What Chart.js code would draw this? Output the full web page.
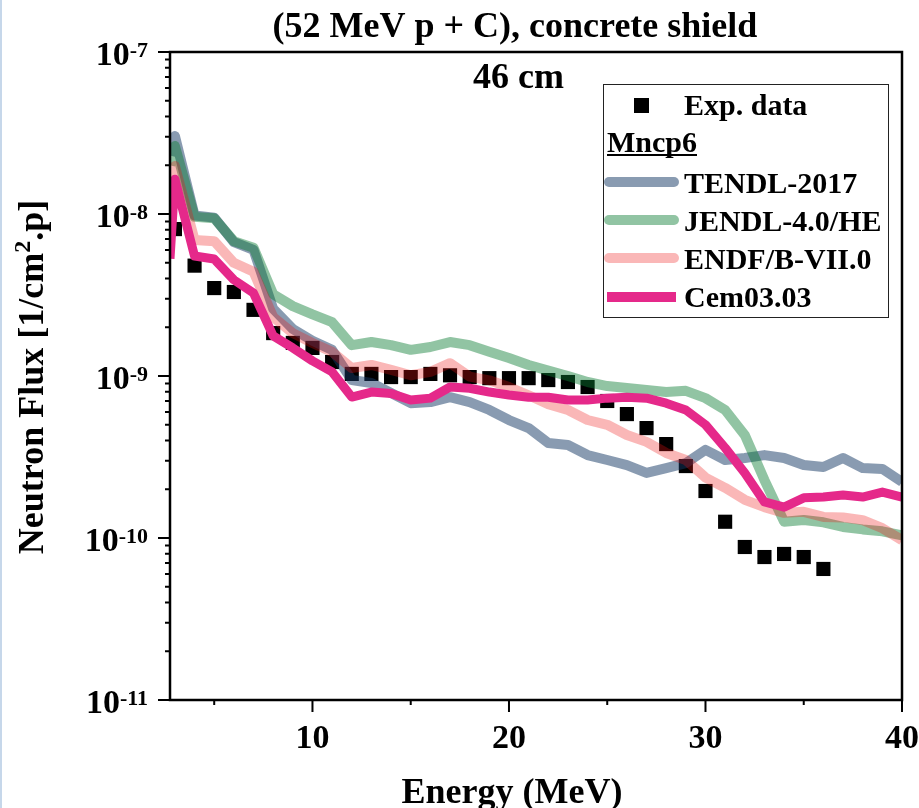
<!DOCTYPE html>
<html>
<head>
<meta charset="utf-8">
<script src="https://cdn.jsdelivr.net/npm/chart.js@4.4.1/dist/chart.umd.min.js"></script>
<style>
  html, body { margin: 0; padding: 0; background: #fff; }
  canvas { display: block; }
</style>
</head>
<body>
<canvas id="fluxChart" width="919" height="808"></canvas>
<script>
// Energy grid (MeV) of the MCNP6 tallies and of the measurement
const energyCalc = [2.75, 3, 4, 5, 6, 7, 8, 9, 10, 11, 12, 13, 14, 15, 16, 17, 18, 19, 20, 21,
    22, 23, 24, 25, 26, 27, 28, 29, 30, 31, 32, 33, 34, 35, 36, 37, 38, 39, 40];
const energyExp = [3, 4, 5, 6, 7, 8, 9, 10, 11, 12, 13, 14, 15, 16, 17, 18, 19, 20, 21, 22,
    23, 24, 25, 26, 27, 28, 29, 30, 31, 32, 33, 34, 35, 36];

// Neutron flux [1/cm2.p]
const expData = [8.07e-9, 4.8e-9, 3.49e-9, 3.3e-9, 2.56e-9, 1.84e-9, 1.6e-9, 1.49e-9, 1.22e-9, 1.03e-9,
    1.03e-9, 9.85e-10, 9.85e-10, 1.03e-9, 1.01e-9, 9.85e-10, 9.7e-10, 9.7e-10, 9.7e-10, 9.44e-10,
    9.18e-10, 8.55e-10, 7.01e-10, 5.82e-10, 4.77e-10, 3.8e-10, 2.78e-10, 1.95e-10, 1.26e-10, 8.8e-11,
    7.63e-11, 7.97e-11, 7.63e-11, 6.44e-11];
const tendl = [2.3e-8, 3.03e-8, 9.8e-9, 9.5e-9, 6.7e-9, 6.0e-9, 2.6e-9, 1.95e-9, 1.65e-9, 1.45e-9,
    9.44e-10, 9.05e-10, 7.85e-10, 6.8e-10, 6.9e-10, 7.4e-10, 6.9e-10, 6.17e-10, 5.35e-10, 4.77e-10,
    3.86e-10, 3.75e-10, 3.25e-10, 3.03e-10, 2.82e-10, 2.52e-10, 2.7e-10, 2.9e-10, 3.5e-10, 3.03e-10,
    3.12e-10, 3.25e-10, 3.12e-10, 2.82e-10, 2.74e-10, 3.12e-10, 2.7e-10, 2.67e-10, 2.22e-10];
const jendl = [2.0e-8, 2.63e-8, 9.6e-9, 9.4e-9, 6.8e-9, 6.2e-9, 3.2e-9, 2.7e-9, 2.4e-9, 2.15e-9,
    1.55e-9, 1.62e-9, 1.55e-9, 1.45e-9, 1.51e-9, 1.62e-9, 1.55e-9, 1.41e-9, 1.29e-9, 1.17e-9,
    1.08e-9, 1.0e-9, 9.18e-10, 8.67e-10, 8.43e-10, 8.2e-10, 7.97e-10, 8.1e-10, 7.3e-10, 6.17e-10,
    4.32e-10, 2.28e-10, 1.26e-10, 1.29e-10, 1.25e-10, 1.17e-10, 1.13e-10, 1.1e-10, 1.04e-10];
const endf = [1.5e-8, 1.98e-8, 6.9e-9, 6.8e-9, 5.0e-9, 4.4e-9, 2.31e-9, 1.84e-9, 1.6e-9, 1.41e-9,
    1.12e-9, 1.17e-9, 1.09e-9, 1.01e-9, 1.06e-9, 1.2e-9, 9.9e-10, 9.4e-10, 8.55e-10, 7.6e-10,
    6.7e-10, 6.17e-10, 5.35e-10, 5.0e-10, 4.32e-10, 3.92e-10, 3.35e-10, 3.03e-10, 2.36e-10, 2.04e-10,
    1.72e-10, 1.55e-10, 1.43e-10, 1.45e-10, 1.35e-10, 1.34e-10, 1.29e-10, 1.15e-10, 9.7e-11];
const cem = [5.3e-9, 1.64e-8, 5.5e-9, 5.27e-9, 3.92e-9, 3.25e-9, 1.77e-9, 1.49e-9, 1.24e-9, 1.06e-9,
    7.41e-10, 7.96e-10, 7.8e-10, 7.1e-10, 7.3e-10, 8.55e-10, 8.4e-10, 7.96e-10, 7.64e-10, 7.4e-10,
    7.4e-10, 7.11e-10, 7.1e-10, 7.3e-10, 7.4e-10, 7.3e-10, 6.8e-10, 6.17e-10, 5.0e-10, 3.6e-10,
    2.52e-10, 1.67e-10, 1.55e-10, 1.77e-10, 1.79e-10, 1.84e-10, 1.79e-10, 1.92e-10, 1.79e-10];

// axis ticks
const xMajor = [10, 20, 30, 40];
const xMinor = [5, 15, 25, 35];
const yPowers = [-11, -10, -9, -8, -7];

const SERIF = '"Liberation Serif", "Times New Roman", serif';
const colTendl = 'rgba(20, 55, 100, 0.5)';
const colJendl = 'rgba(10, 125, 50, 0.45)';
const colEndf = 'rgba(238, 17, 17, 0.3)';
const colCem = '#e5298a';

const pts = (xs, ys) => xs.map((x, i) => ({ x: x, y: ys[i] }));

function lineSet(label, values, color, width, order) {
    return {
        label: label,
        data: pts(energyCalc, values),
        borderColor: color,
        borderWidth: width,
        borderJoinStyle: 'round',
        pointRadius: 0,
        tension: 0,
        clip: 0,
        order: order
    };
}

const decor = {
    id: 'decor',
    beforeDraw(chart) {
        const c = chart.ctx;
        c.save();
        c.fillStyle = '#fff';
        c.fillRect(0, 0, chart.width, chart.height);
        c.fillStyle = '#c6d7ea';
        c.fillRect(0, 0, 2, chart.height);
        c.restore();
    },
    afterDraw(chart) {
        const c = chart.ctx, a = chart.chartArea;
        const xs = chart.scales.x, ys = chart.scales.y;
        c.save();
        c.fillStyle = '#000';
        c.strokeStyle = '#000';

        // frame
        c.lineWidth = 2.5;
        c.strokeRect(a.left, a.top, a.right - a.left, a.bottom - a.top);

        // y ticks (decades + minors), x ticks
        c.lineWidth = 2;
        c.beginPath();
        yPowers.forEach((p, i) => {
            const y = ys.getPixelForValue(Math.pow(10, p));
            c.moveTo(a.left - 12, y); c.lineTo(a.left, y);
            if (i < yPowers.length - 1) {
                for (let m = 2; m <= 9; m++) {
                    const ym = ys.getPixelForValue(m * Math.pow(10, p));
                    c.moveTo(a.left - 5, ym); c.lineTo(a.left, ym);
                }
            }
        });
        xMajor.forEach(v => {
            const x = xs.getPixelForValue(v);
            c.moveTo(x, a.bottom); c.lineTo(x, a.bottom + 12);
        });
        xMinor.forEach(v => {
            const x = xs.getPixelForValue(v);
            c.moveTo(x, a.bottom); c.lineTo(x, a.bottom + 5);
        });
        c.stroke();

        c.textBaseline = 'alphabetic';
        yPowers.forEach(p => {
            const y = ys.getPixelForValue(Math.pow(10, p));
            const sup = String(p);
            c.font = 'bold 22px ' + SERIF;
            const sw = c.measureText(sup).width;
            c.textAlign = 'left';
            c.fillText(sup, 148 - sw, y + 5);
            c.font = 'bold 34px ' + SERIF;
            c.textAlign = 'right';
            c.fillText('10', 148 - sw, y + 13);
        });
        c.font = 'bold 34px ' + SERIF;
        c.textAlign = 'center';
        xMajor.forEach(v => c.fillText(String(v), xs.getPixelForValue(v), a.bottom + 48));

        // titles
        c.font = 'bold 36px ' + SERIF;
        c.fillText('(52 MeV p + C), concrete shield', 515, 37);
        c.textAlign = 'left';
        c.fillText('46 cm', 473, 88);
        c.textAlign = 'center';
        c.fillText('Energy (MeV)', 512, 803);

        c.save();
        c.translate(43, 377);
        c.rotate(-Math.PI / 2);
        c.font = 'bold 36px ' + SERIF;
        const t1 = 'Neutron Flux [1/cm', t2 = '2', t3 = '.p]';
        const w1 = c.measureText(t1).width, w3 = c.measureText(t3).width;
        c.font = 'bold 24px ' + SERIF;
        const w2 = c.measureText(t2).width;
        let x0 = -(w1 + w2 + w3) / 2;
        c.textAlign = 'left';
        c.font = 'bold 36px ' + SERIF;
        c.fillText(t1, x0, 0);
        c.font = 'bold 24px ' + SERIF;
        c.fillText(t2, x0 + w1, -13);
        c.font = 'bold 36px ' + SERIF;
        c.fillText(t3, x0 + w1 + w2, 0);
        c.restore();

        // legend
        c.lineWidth = 1;
        c.strokeStyle = '#222';
        c.fillStyle = '#fff';
        c.fillRect(603.5, 84.5, 285, 233);
        c.strokeRect(603.5, 84.5, 285, 233);
        c.fillStyle = '#000';
        c.fillRect(634, 98, 15, 15);
        c.font = 'bold 30px ' + SERIF;
        c.textAlign = 'left';
        c.fillText('Exp. data', 684, 115);
        c.fillText('Mncp6', 607, 152);
        const mw = c.measureText('Mncp6').width;
        c.fillRect(607, 154, mw, 2);

        const rows = [
            ['TENDL-2017', colTendl, 182, 193],
            ['JENDL-4.0/HE', colJendl, 220, 231],
            ['ENDF/B-VII.0', colEndf, 258, 269]
        ];
        c.lineCap = 'round';
        c.lineWidth = 10;
        rows.forEach(r => {
            c.strokeStyle = r[1];
            c.beginPath();
            c.moveTo(609, r[2]); c.lineTo(674, r[2]);
            c.stroke();
            c.fillStyle = '#000';
            c.fillText(r[0], 684, r[3]);
        });
        c.fillStyle = colCem;
        c.fillRect(607, 292, 69, 10);
        c.fillStyle = '#000';
        c.fillText('Cem03.03', 684, 307);
        c.restore();
    }
};

new Chart(document.getElementById('fluxChart'), {
    type: 'line',
    data: {
        datasets: [
            {
                label: 'Exp. data',
                data: pts(energyExp, expData),
                showLine: false,
                pointStyle: 'rect',
                pointRadius: 10,
                pointBorderWidth: 0,
                backgroundColor: '#000',
                borderColor: '#000',
                clip: 0,
                order: 5
            },
            lineSet('TENDL-2017', tendl, colTendl, 10, 4),
            lineSet('JENDL-4.0/HE', jendl, colJendl, 10, 3),
            lineSet('ENDF/B-VII.0', endf, colEndf, 10, 2),
            lineSet('Cem03.03', cem, colCem, 9, 1)
        ]
    },
    options: {
        responsive: false,
        animation: false,
        devicePixelRatio: 1,
        layout: { padding: { left: 170, top: 52, right: 17, bottom: 108 } },
        plugins: {
            legend: { display: false },
            tooltip: { enabled: false },
            title: { display: false }
        },
        scales: {
            x: { type: 'linear', min: 2.75, max: 40, display: false },
            y: { type: 'logarithmic', min: 1e-11, max: 1e-7, display: false }
        }
    },
    plugins: [decor]
});
</script>
</body>
</html>
